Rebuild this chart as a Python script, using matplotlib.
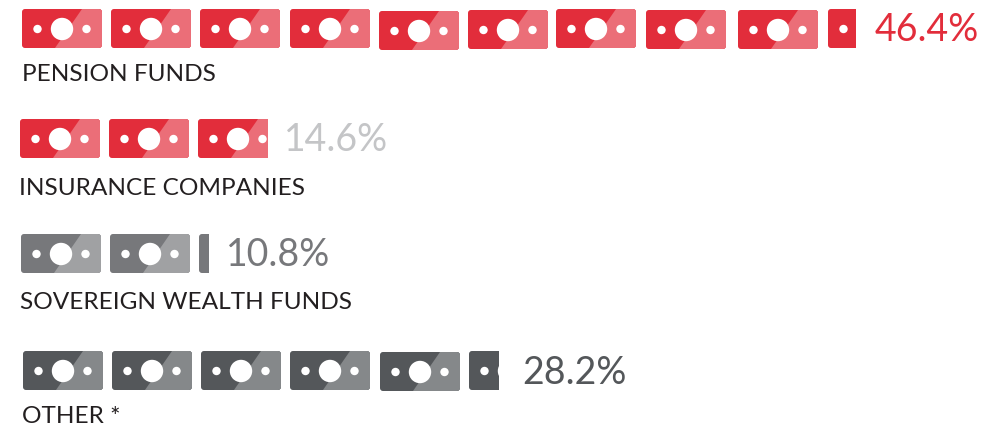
import matplotlib
matplotlib.use('Agg')
import matplotlib.pyplot as plt
from matplotlib.patches import Circle, FancyBboxPatch, Polygon, Rectangle

plt.rcParams['font.family'] = ['Lato', 'DejaVu Sans']

# data
labels = ['PENSION FUNDS', 'INSURANCE COMPANIES', 'SOVEREIGN WEALTH FUNDS', 'OTHER *']
shares = [46.4, 14.6, 10.8, 28.2]
notes_drawn = [9.35, 2.87, 2.13, 5.37]  # notes shown in the picture, partial one at the end

# layout, in pixels of the picture
note_w = 80
note_h = 39
row_x = [
    [22, 111, 200, 290, 379, 468, 556, 646, 738, 828],
    [20, 109, 198],
    [21, 110, 199],
    [23, 112, 201, 290, 380, 469],
]
row_y = [
    [9, 9, 9, 9, 11, 10, 9, 10, 10, 9],
    [119, 119, 119],
    [234, 234, 234],
    [351, 351, 351, 351, 352, 351],
]
label_pos = [(22, 74.5), (19, 188.5), (20, 302.5), (22, 416.5)]
share_pos = [(874.5, 30), (283.5, 140), (225.5, 254.5), (522.5, 373.5)]

dark = ['#E22D3B', '#E22D3B', '#77787B', '#54575A']
light = ['#EB6E78', '#EB6E78', '#A0A1A3', '#85888A']
share_colors = ['#E22D3B', '#C4C5C7', '#77787B', '#54575A']


def draw_note(ax, x, y, part, col_dark, col_light):
    end = x + note_w * part
    clip = Rectangle((x - 1, y - 1), note_w * part + 1, note_h + 2, transform=ax.transData)
    body = FancyBboxPatch((x + 3, y + 3), note_w - 6, note_h - 6, boxstyle='round,pad=3',
                          fc=col_dark, ec='none')
    ax.add_patch(body)
    # lighter right side, cut by a slanted edge
    if end > x + 33:
        top = min(x + 60, end)
        side = Polygon([(top, y), (end, y), (end, y + note_h), (x + 33, y + note_h)],
                       fc=col_light, ec='none')
        ax.add_patch(side)
        side.set_clip_path(body)
    body.set_clip_path(clip)
    shapes = [Circle((x + 40, y + 20), 11.2), Circle((x + 15.5, y + 20), 4.2), Circle((x + 64.5, y + 20), 4.2)]
    for shape in shapes:
        shape.set(fc='white', ec='none')
        ax.add_patch(shape)
        shape.set_clip_path(clip)


fig = plt.figure(figsize=(10, 4.25), dpi=100)
ax = fig.add_axes([0, 0, 1, 1])
ax.set_xlim(0, 1000)
ax.set_ylim(425, 0)
ax.axis('off')

for i in range(len(labels)):
    left = notes_drawn[i]
    for x, y in zip(row_x[i], row_y[i]):
        draw_note(ax, x, y, min(left, 1), dark[i], light[i])
        left -= 1
    ax.text(label_pos[i][0], label_pos[i][1], labels[i], fontsize=17.6, color='#231F20',
            ha='left', va='center')
    ax.text(share_pos[i][0], share_pos[i][1], f'{shares[i]}%', fontsize=27, color=share_colors[i],
            ha='left', va='center')

plt.savefig('out.png', dpi=100)
